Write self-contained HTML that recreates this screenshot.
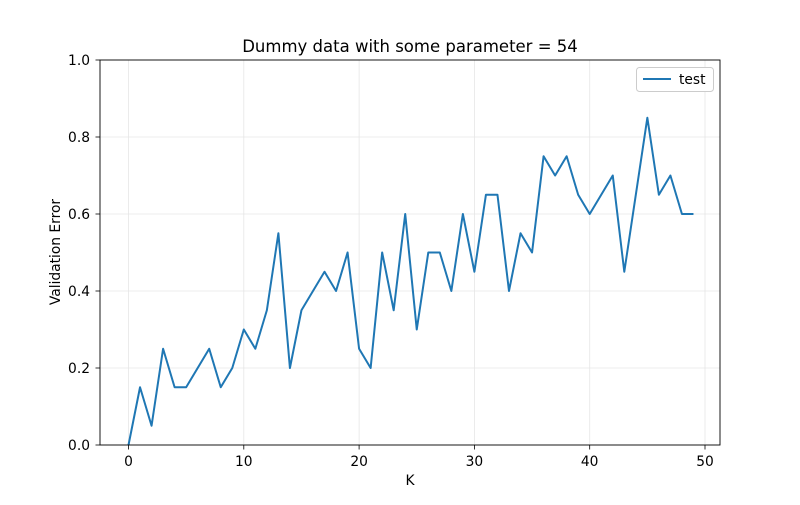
<!DOCTYPE html>
<html><head><meta charset="utf-8"><style>
body{margin:0;background:#fff;}
svg text{font-family:"DejaVu Sans","Liberation Sans",sans-serif;}
</style></head><body>
<svg id="chart" width="800" height="500">
<rect width="800" height="500" fill="#fff"/>
<text x="410" y="52" text-anchor="middle" font-size="16.5">Dummy data with some parameter = 54</text>
<g id="grid"></g>
<g id="ticks"></g>
<polyline id="line" fill="none" stroke="#1f77b4" stroke-width="2" stroke-linejoin="round"/>
<rect x="100" y="60" width="620" height="385" fill="none" stroke="#000" stroke-width="0.9"/>
<text x="410" y="485" text-anchor="middle" font-size="13.8">K</text>
<text x="0" y="0" transform="translate(60,252) rotate(-90)" text-anchor="middle" font-size="13.8">Validation Error</text>
<g>
<rect x="636.5" y="67.5" width="77" height="24" rx="3" fill="#fff" stroke="#ccc"/>
<line x1="643" y1="79" x2="671" y2="79" stroke="#1f77b4" stroke-width="2"/>
<text x="679" y="84" font-size="13.8">test</text>
</g>
</svg>
<script>
const xs=[0,1,2,3,4,5,7,8,9,10,11,12,13,14,15,17,18,19,20,21,22,23,24,25,26,27,28,29,30,31,32,33,34,35,36,37,38,39,40,42,43,45,46,47,48,49];
const ys=[0,0.15,0.05,0.25,0.15,0.15,0.25,0.15,0.2,0.3,0.25,0.35,0.55,0.2,0.35,0.45,0.4,0.5,0.25,0.2,0.5,0.35,0.6,0.3,0.5,0.5,0.4,0.6,0.45,0.65,0.65,0.4,0.55,0.5,0.75,0.7,0.75,0.65,0.6,0.7,0.45,0.85,0.65,0.7,0.6,0.6];
const xTicks=[0,10,20,30,40,50];
const yTicks=[0,0.2,0.4,0.6,0.8,1.0];
const X=v=>128.5+v*11.53;
const Y=v=>445-v*385;
const NS="http://www.w3.org/2000/svg";
const grid=document.getElementById('grid'),ticks=document.getElementById('ticks');
function mk(tag,a,p){const e=document.createElementNS(NS,tag);for(const k in a)e.setAttribute(k,a[k]);p.appendChild(e);return e;}
xTicks.forEach(t=>{
const g=mk('line',{x1:X(t),x2:X(t),y1:60,y2:445,stroke:'#e6e6e6','stroke-width':0.8},grid);


const tk=mk('line',{x1:X(t),x2:X(t),y1:445,y2:449.5,stroke:'#000','stroke-width':0.8},ticks);


const tx=mk('text',{x:X(t),y:466,'text-anchor':'middle','font-size':13.8},ticks);
tx.textContent=t;


});
yTicks.forEach(t=>{
const g=mk('line',{x1:100,x2:720,y1:Y(t),y2:Y(t),stroke:'#e6e6e6','stroke-width':0.8},grid);


const tk=mk('line',{x1:95.5,x2:100,y1:Y(t),y2:Y(t),stroke:'#000','stroke-width':0.8},ticks);


const tx=mk('text',{x:90,y:Y(t)+5,'text-anchor':'end','font-size':13.8},ticks);
tx.textContent=t.toFixed(1);


});
document.getElementById('line').setAttribute('points',xs.map((x,i)=>X(x)+','+Y(ys[i])).join(' '));
</script>
</body></html>
